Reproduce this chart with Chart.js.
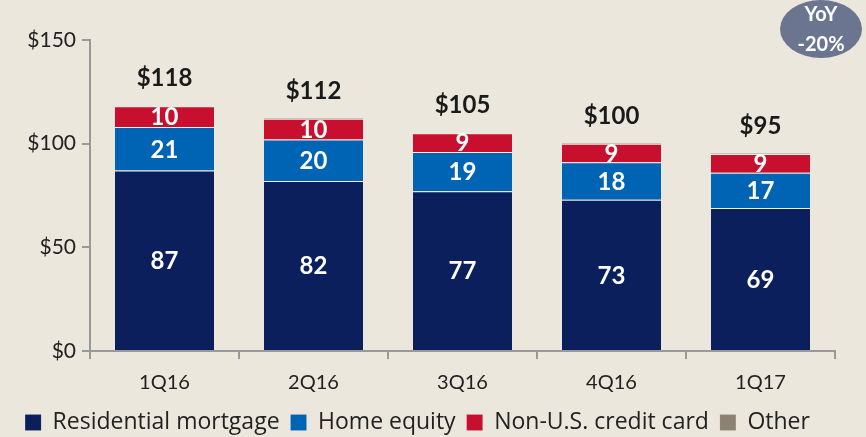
<!DOCTYPE html>
<html>
<head>
<meta charset="utf-8">
<script src="https://cdn.jsdelivr.net/npm/chart.js@4"></script>
<style>
  html, body { margin: 0; padding: 0; background: #ebe7dd; }
  #wrap { width: 866px; height: 437px; }
</style>
</head>
<body>
<div id="wrap"><canvas id="loansChart"></canvas></div>
<script>
const quarters = ["1Q16", "2Q16", "3Q16", "4Q16", "1Q17"];
const residentialMortgage = [87, 82, 77, 73, 69];
const homeEquity = [21, 20, 19, 18, 17];
const nonUsCreditCard = [10, 10, 9, 9, 9];
const other = [0.4, 0.4, 0.4, 0.4, 0.4];
const totals = [118, 112, 105, 100, 95];
const yTicks = [0, 50, 100, 150];

const FONT = "Lato, 'Open Sans', sans-serif";

const segmentLabels = {
  id: "segmentLabels",
  afterDatasetsDraw(chart) {
    const ctx = chart.ctx;
    ctx.save();
    ctx.textAlign = "center";
    ctx.textBaseline = "middle";
    ctx.fillStyle = "#ffffff";
    ctx.font = "bold 24px " + FONT;
    [0, 1, 2].forEach(function (di) {
      const meta = chart.getDatasetMeta(di);
      meta.data.forEach(function (bar, i) {
        const v = chart.data.datasets[di].data[i];
        ctx.fillText(String(v), bar.x, (bar.y + bar.base) / 2 + 1);
      });
    });
    // totals above bars
    ctx.fillStyle = "#1a1a1a";
    const topMeta = chart.getDatasetMeta(3);
    topMeta.data.forEach(function (bar, i) {
      ctx.fillText("$" + totals[i], bar.x, bar.y - 27);
    });
    // YoY badge
    ctx.fillStyle = "#6b7590";
    ctx.beginPath();
    ctx.ellipse(821, 29, 41, 29, 0, 0, Math.PI * 2);
    ctx.fill();
    ctx.fillStyle = "#ffffff";
    ctx.font = "bold 20px " + FONT;
    ctx.fillText("YoY", 821, 15);
    ctx.fillText("-20%", 821, 45);
    ctx.restore();
  }
};

const ctx = document.getElementById("loansChart").getContext("2d");
const loansChartConfig = {
  type: "bar",
  data: {
    labels: quarters,
    datasets: [
      { label: "Residential mortgage", data: residentialMortgage, backgroundColor: "#0a1f5c" },
      { label: "Home equity", data: homeEquity, backgroundColor: "#0064b4" },
      { label: "Non-U.S. credit card", data: nonUsCreditCard, backgroundColor: "#c8102e" },
      { label: "Other", data: other, backgroundColor: "#8c8172" },
    ],
  },
  options: {
    responsive: true,
    maintainAspectRatio: false,
    animation: false,
    layout: { padding: { top: 40, right: 31, left: 0, bottom: -7 } },
    datasets: {
      bar: {
        categoryPercentage: 0.665,
        barPercentage: 1,
        borderWidth: { top: 1, bottom: 0, left: 0, right: 0 },
        borderColor: "rgba(255,255,255,0.35)",
      },
    },
    plugins: {
      tooltip: { enabled: false },
      legend: {
        position: "bottom",
        labels: {
          color: "#222",
          font: { family: "'Open Sans', sans-serif", size: 23 },
          boxWidth: 16,
          boxHeight: 16,
          padding: 11,
        },
      },
    },
    scales: {
      x: {
        stacked: true,
        grid: {
          offset: true,
          drawOnChartArea: false,
          tickLength: 8,
          color: "#999",
          lineWidth: 2,
        },
        border: { color: "#999", width: 2 },
        ticks: { color: "#222", font: { family: FONT, size: 20 }, padding: 12 },
        afterFit(axis) { axis.height -= 7; },
      },
      y: {
        stacked: true,
        min: 0,
        max: 150,
        afterBuildTicks(axis) {
          axis.ticks = yTicks.map(function (v) { return { value: v }; });
        },
        afterFit(axis) { axis.width = 90; },
        grid: {
          drawOnChartArea: false,
          tickLength: 8,
          color: "#999",
          lineWidth: 2,
        },
        border: { color: "#999", width: 2 },
        ticks: {
          color: "#222",
          font: { family: FONT, size: 21 },
          padding: 6,
          callback: function (v) { return "$" + v; },
        },
      },
    },
  },
  plugins: [segmentLabels],
};

new Chart(ctx, loansChartConfig);
</script>
</body>
</html>
